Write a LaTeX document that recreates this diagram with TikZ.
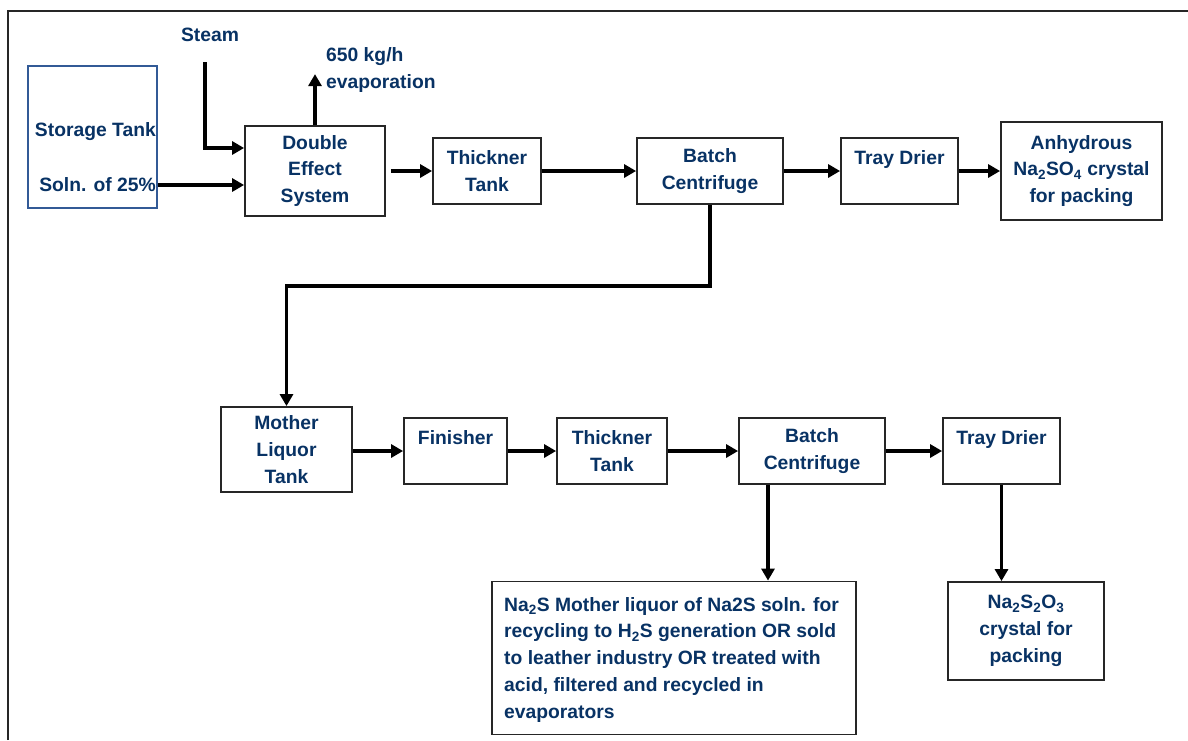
\documentclass[tikz,border=0pt]{standalone}
\usepackage{fontspec}
\setmainfont{Liberation Sans}
\usetikzlibrary{arrows.meta,calc}
\definecolor{txt}{RGB}{8,50,100}
\definecolor{tankedge}{RGB}{50,90,150}
\tikzset{
  box/.style={draw=black!85, line width=1.8pt, rectangle, inner sep=0pt, align=center},
  lbl/.style={inner sep=0pt, align=left},
  arr/.style={line width=3.6pt, -{Triangle[length=12pt,width=13pt]}},
}
\newcommand{\boxat}[6]{% name, x1, y1, x2, y2, text
  \node[box, minimum width={#4-#2}, minimum height={#5-#3}] (#1) at ({(#2+#4)/2},{(#3+#5)/2}) {#6};}
\begin{document}
\begin{tikzpicture}[x=1pt,y=-1pt, every node/.style={font=\fontsize{19.3}{26.8}\selectfont\bfseries, text=txt}]
\useasboundingbox (0,0) rectangle (1188,740);
% frame along the top and left
\draw[line width=2pt, black!85] (8,740) -- (8,11) -- (1188,11);

% feed tank
\node[draw=tankedge, line width=1.3pt, minimum width=129pt, minimum height=142pt, inner sep=0pt] (st) at (92.5,137) {};
\node[lbl, anchor=east] (sttxt) at (156,132) {Storage Tank};
\node[lbl, anchor=east] (soln) at (156,185) {Soln. of 25\%};

% first line of units
\boxat{des}{245}{126}{385}{216}{Double\\Effect\\System}
\boxat{thk}{433}{138}{541}{204}{Thickner\\Tank}
\boxat{bc}{637}{138}{783}{204}{Batch\\Centrifuge}
\boxat{td}{841}{138}{958}{204}{Tray Drier\\\mbox{}}
\boxat{anh}{1001}{122}{1162}{220}{Anhydrous\\Na\textsubscript{2}SO\textsubscript{4} crystal\\for packing}

\node[lbl] (steam) at (210,35) {Steam};
\node[lbl, anchor=west] (evap) at (326,70) {650 kg/h\\evaporation};

% second line of units
\boxat{mlt}{221}{407}{352}{492}{Mother\\Liquor\\Tank}
\boxat{fin}{404}{418}{507}{484}{Finisher\\\mbox{}}
\boxat{thk2}{557}{418}{667}{484}{Thickner\\Tank}
\boxat{bc2}{739}{418}{885}{484}{Batch\\Centrifuge}
\boxat{td2}{943}{418}{1060}{484}{Tray Drier\\\mbox{}}

% products
\node[box, minimum width=364pt, minimum height=153pt] (liq) at (674,658) {};
\node[lbl, anchor=north west] (liqtxt) at (504,597) {Na\textsubscript{2}S Mother liquor of Na2S soln. for\\recycling to H\textsubscript{2}S generation OR sold\\to leather industry OR treated with\\acid, filtered and recycled in\\evaporators};
\boxat{thio}{948}{582}{1104}{680}{Na\textsubscript{2}S\textsubscript{2}O\textsubscript{3}\\crystal for\\packing}

% connectors
\coordinate (steamin) at (205,62);
\draw[arr] (steamin) |- ([yshift=23pt]des.west);
\draw[arr] (st.east |- soln) -- (soln -| des.west);
\draw[arr] (des.north) -- ++(0,-51);
\draw[arr, shorten <=5pt] (des.east |- thk.west) -- (thk.west);
\draw[arr] (thk.east) -- (bc.west);
\draw[arr] (bc.east) -- (td.west);
\draw[arr] (td.east) -- (anh.west);
\draw[arr] (bc.south) -- ++(0,81) -| (mlt.north);
\draw[arr] (mlt.east |- fin.west) -- (fin.west);
\draw[arr] (fin.east) -- (thk2.west);
\draw[arr] (thk2.east) -- (bc2.west);
\draw[arr] (bc2.east) -- (td2.west);
\draw[arr] ([xshift=-44pt]bc2.south) -- ([xshift=-44pt]bc2.south |- liq.north);
\draw[arr] (td2.south) -- (td2.south |- thio.north);
\end{tikzpicture}
\end{document}
